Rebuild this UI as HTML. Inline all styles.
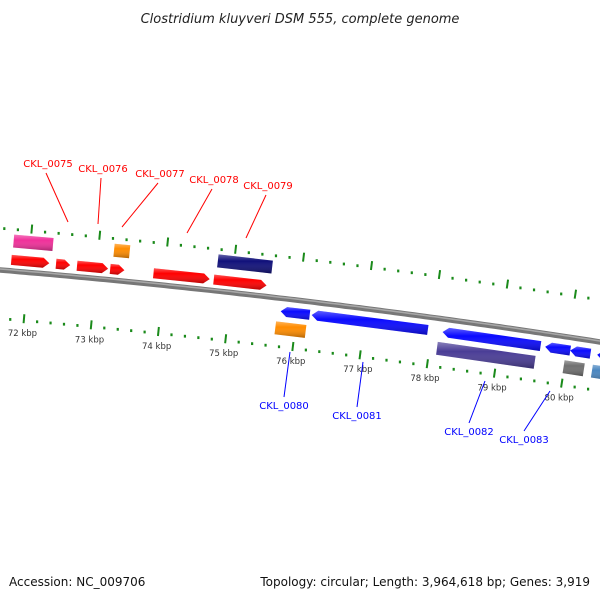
<!DOCTYPE html>
<html><head><meta charset="utf-8"><style>
body{margin:0;background:#fff}
svg{display:block;font-family:"DejaVu Sans","Liberation Sans",sans-serif}
</style></head><body>
<svg id="c" width="600" height="600" viewBox="0 0 600 600">
<defs>
<linearGradient id="sh" x1="0" y1="0" x2="0" y2="1">
<stop offset="0" stop-color="#fff" stop-opacity="0.35"/>
<stop offset="0.35" stop-color="#fff" stop-opacity="0"/>
<stop offset="1" stop-color="#000" stop-opacity="0.3"/>
</linearGradient>
</defs>
<text x="300" y="23" text-anchor="middle" font-size="13" font-style="italic" fill="#222">Clostridium kluyveri DSM 555, complete genome</text>
<text x="9" y="586" font-size="12" fill="#111">Accession: NC_009706</text>
<text x="590" y="586" text-anchor="end" font-size="12" fill="#111">Topology: circular; Length: 3,964,618 bp; Genes: 3,919</text>
<g id="g"></g>
</svg>
<script>
// data (kbp)
const upperArrowStarts=[71.74,72.40,72.71,73.20,73.84,74.73];
const upperArrowEnds=[72.30,72.61,73.17,73.41,74.67,75.51];
const upperBoxStarts=[71.75,73.23,74.76];
const upperBoxEnds=[72.33,73.46,75.56];
const upperBoxColors=["#f0309a","#ff8c00","#10107a"];
const lowerArrowStarts=[75.76,76.22,78.16,79.68,80.05,80.45];
const lowerArrowEnds=[76.19,77.94,79.61,80.05,80.35,80.68];
const lowerBoxStarts=[75.71,78.11,79.99,80.41];
const lowerBoxEnds=[76.16,79.56,80.29,80.72];
const lowerBoxColors=["#ff8c00","#4a3d96","#707070","#4a86c0"];
const tickLabels=["72 kbp","73 kbp","74 kbp","75 kbp","76 kbp","77 kbp","78 kbp","79 kbp","80 kbp"];
const tickKbp=[72,73,74,75,76,77,78,79,80];

const NS="http://www.w3.org/2000/svg";
const G=document.getElementById('g');
function xs(k){return 28+(k-72)*67.6;}
function by(x){return 270+0.0836*x+6.06e-5*x*x;}
function pt(k,d){const x=xs(k);const sl=0.0836+2*6.06e-5*x;const t=Math.atan(sl);
  return [x-d*Math.sin(t),by(x)+d*Math.cos(t),t];}
function mk(tag,attrs){const e=document.createElementNS(NS,tag);for(const a in attrs)e.setAttribute(a,attrs[a]);G.appendChild(e);return e;}

// backbone
let bp="";for(let x=-5;x<=605;x+=5){bp+=(x==-5?"M":"L")+x+","+by(x).toFixed(1);}
let bb=mk('path',{d:bp,stroke:"#777","stroke-width":5.5,fill:"none"});


let bb2=mk('path',{d:bp,stroke:"#a8a8a8","stroke-width":1.5,fill:"none",transform:"translate(0,-1)"});



// tick rows
function tickRow(d,name){
  for(let i=0;i<=50;i++){const k=71.4+i*0.2;const isMaj=Math.abs(k-Math.round(k))<0.01;
    const p=pt(k,d);
    let e;
    if(isMaj){const q=pt(k,d-9);e=mk('line',{x1:p[0],y1:p[1],x2:q[0],y2:q[1],stroke:"#1a8a1a","stroke-width":2});}
    else{e=mk('rect',{x:p[0]-1,y:p[1]-4,width:2.2,height:2.8,fill:"#1a8a1a"});}
    
    
  }
}
tickRow(-39,'upper');
tickRow(51,'lower');
tickKbp.forEach((k,i)=>{const p=pt(k,64);
  const t=mk('text',{x:p[0],y:p[1],"text-anchor":"middle","font-size":8.5,fill:"#333"});
  t.textContent=tickLabels[i];
  
  
});

function gene(k1,k2,d,h,color,dir,name){
  let pts;
  if(dir===0){pts=[pt(k1,d-h/2),pt(k2,d-h/2),pt(k2,d+h/2),pt(k1,d+h/2)];}
  else{const hl=Math.min(6,(xs(k2)-xs(k1))*0.5)/67.6;
    if(dir>0)pts=[pt(k1,d-h/2),pt(k2-hl,d-h/2),pt(k2,d),pt(k2-hl,d+h/2),pt(k1,d+h/2)];
    else pts=[pt(k1,d),pt(k1+hl,d-h/2),pt(k2,d-h/2),pt(k2,d+h/2),pt(k1+hl,d+h/2)];}
  const s=pts.map(p=>p[0].toFixed(1)+","+p[1].toFixed(1)).join(" ");
  const a=mk('polygon',{points:s,fill:color});
  
  
  const b=mk('polygon',{points:s,fill:"url(#sh)"});
  
  
}
upperArrowStarts.forEach((s,i)=>gene(s,upperArrowEnds[i],-11,10,"#ff0000",1,'forward-gene'));
upperBoxStarts.forEach((s,i)=>gene(s,upperBoxEnds[i],-30,13,upperBoxColors[i],0,'forward-feature'));
lowerArrowStarts.forEach((s,i)=>gene(s,lowerArrowEnds[i],13,10,"#0a0aff",-1,'reverse-gene'));
lowerBoxStarts.forEach((s,i)=>gene(s,lowerBoxEnds[i],30,13,lowerBoxColors[i],0,'reverse-feature'));

// gene labels
const labs=[["CKL_0075",48,167,68,222,"red"],["CKL_0076",103,172,98,224,"red"],["CKL_0077",160,177,122,227,"red"],["CKL_0078",214,183,187,233,"red"],["CKL_0079",268,189,246,238,"red"],
["CKL_0080",284,409,290,352,"blue"],["CKL_0081",357,419,363,362,"blue"],["CKL_0082",469,435,485,381,"blue"],["CKL_0083",524,443,550,391,"blue"]];
labs.forEach(l=>{const c=l[5]=="red"?"#ff0000":"#0000ff";
  const up=l[5]=="red";
  const ln=mk('line',{x1:l[1]+(up?-2:0),y1:up?l[2]+6:l[2]-12,x2:l[3],y2:l[4],stroke:c,"stroke-width":1});
  
  
  const t=mk('text',{x:l[1],y:l[2],"text-anchor":"middle","font-size":10,fill:c});
  t.textContent=l[0];
  
  
});
</script>
</body></html>
